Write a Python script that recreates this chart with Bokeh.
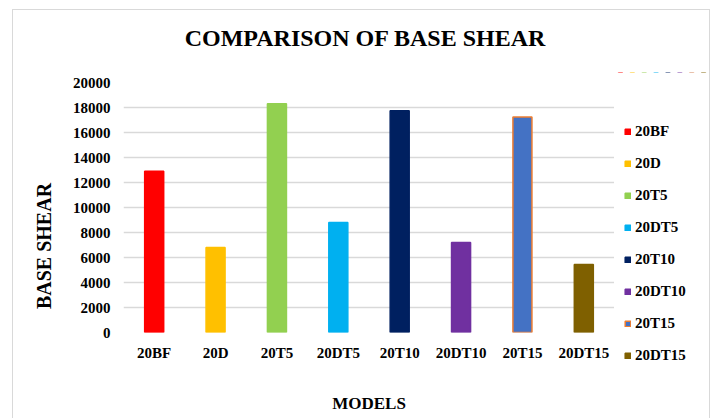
import math
from bokeh.plotting import figure
from bokeh.layouts import row, column
from bokeh.models import (ColumnDataSource, Legend, LegendItem, FactorRange, Label,
                          Range1d, SingleIntervalTicker, BoxAnnotation)
from bokeh.embed import file_html
from bokeh.resources import INLINE

models = ["20BF", "20D", "20T5", "20DT5", "20T10", "20DT10", "20T15", "20DT15"]
base_shear = [12900, 6800, 18300, 8800, 17750, 7200, 17250, 5450]
fill_colors = ["#FF0000", "#FFC000", "#92D050", "#00B0F0", "#002060", "#7030A0", "#4472C4", "#7F6000"]
edge_colors = ["#FF0000", "#FFC000", "#92D050", "#00B0F0", "#002060", "#7030A0", "#ED7D31", "#7F6000"]

FONT = "Liberation Serif"
TH = 62    # title strip height
H = 346    # chart row height
W = 696


def strip(width, height, xr, yr):
    f = figure(width=width, height=height, x_range=xr, y_range=yr,
               output_backend="svg", toolbar_location=None,
               min_border_left=0, min_border_right=0, min_border_top=0, min_border_bottom=0,
               x_axis_location=None, y_axis_location=None)
    f.grid.visible = False
    f.outline_line_color = None
    try:
        f.frame_align = False
    except Exception:
        pass
    return f


src = ColumnDataSource(dict(model=models, value=base_shear, fill=fill_colors, edge=edge_colors))

# ---- title strip ----
pt = strip(W, TH, Range1d(0, W), Range1d(TH, 0))
pt.add_layout(Label(x=352, y=27, text="COMPARISON OF BASE SHEAR",
                    text_align="center", text_baseline="middle", text_font=FONT,
                    text_font_size="24px", text_font_style="bold", text_color="#000000"))

# ---- left strip: vertical axis title ----
p0 = strip(50, H, Range1d(0, 50), Range1d(H, 0))
p0.add_layout(Label(x=30, y=173.5, text="BASE SHEAR", angle=math.pi / 2,
                    text_align="center", text_baseline="middle", text_font=FONT,
                    text_font_size="20px", text_font_style="bold", text_color="#000000"))

# ---- main chart ----
p = figure(x_range=FactorRange(*models), y_range=Range1d(0, 20000),
           width=551, height=H, output_backend="svg", toolbar_location=None,
           min_border_left=60, min_border_right=0, min_border_top=10, min_border_bottom=86)
try:
    p.frame_align = False
except Exception:
    pass

r = p.vbar(x="model", top="value", width=0.31, source=src,
           fill_color="fill", line_color="edge", line_width=1.5)

p.outline_line_color = None
p.background_fill_color = "white"
p.border_fill_color = "white"

p.xgrid.grid_line_color = None
p.ygrid.grid_line_color = "#d9d9d9"
p.ygrid.grid_line_width = 1.5
p.yaxis.ticker = SingleIntervalTicker(interval=2000)

for ax in (p.xaxis[0], p.yaxis[0]):
    ax.axis_line_color = None
    ax.major_tick_line_color = None
    ax.minor_tick_line_color = None
    ax.major_tick_out = 0
    ax.major_tick_in = 0
    ax.minor_tick_out = 0
    ax.major_label_text_font = FONT
    ax.major_label_text_font_size = "15px"
    ax.major_label_text_font_style = "bold"
    ax.major_label_text_color = "#000000"
p.yaxis.major_label_standoff = 13
p.xaxis.major_label_standoff = 12
p.xaxis.axis_label = "MODELS"
p.xaxis.axis_label_text_font = FONT
p.xaxis.axis_label_text_font_size = "17px"
p.xaxis.axis_label_text_font_style = "bold"
p.xaxis.axis_label_text_color = "#000000"
p.xaxis.axis_label_standoff = 30

# ---- right strip: legend (its bars lie outside the visible range) ----
p2 = strip(95, H, FactorRange(*models), Range1d(-40000, -20000))
r2 = p2.vbar(x="model", top="value", width=0.31, source=src,
             fill_color="fill", line_color="edge", line_width=1.5)
# hide the clipped bar edges that Bokeh leaves at the strip's top edge
p2.add_layout(BoxAnnotation(bottom=-21700, fill_color="white", fill_alpha=1.0,
                            line_color=None, level="overlay"))

items = [LegendItem(label=m, renderers=[r2], index=i) for i, m in enumerate(models)]
legend = Legend(items=items, location=(10, 53), margin=0, padding=5,
                glyph_width=7, glyph_height=7, label_height=20, spacing=12,
                label_standoff=4, label_text_font=FONT, label_text_font_size="15px",
                label_text_font_style="bold", label_text_color="#000000",
                border_line_color=None, background_fill_alpha=0)
p2.add_layout(legend)

layout = column(pt, row(p0, p, p2))
layout.styles = {"margin-left": "12px", "margin-top": "9px",
                 "border-top": "1px solid #d9d9d9", "border-left": "1px solid #d9d9d9",
                 "border-right": "1px solid #d9d9d9"}

open("out.html", "w").write(file_html(layout, INLINE))
